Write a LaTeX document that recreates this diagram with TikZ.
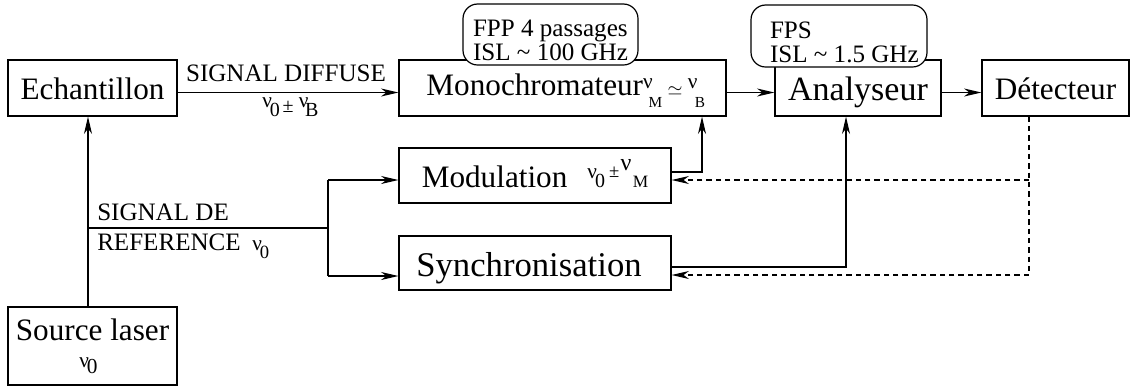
\documentclass[tikz,border=0pt]{standalone}
\usepackage{fontspec}
\setmainfont{Liberation Serif}
\usetikzlibrary{arrows.meta}
\newcommand{\fs}[1]{\fontsize{#1}{#1}\selectfont}
\tikzset{
  box/.style={draw, line width=0.9pt, inner sep=0pt, text depth=0pt},
  roundbox/.style={draw, fill=white, line width=0.9pt, rounded corners=11pt, inner sep=0pt},
  ln/.style={line width=0.9pt},
  tip/.style={-{Stealth[length=13pt,width=6pt,inset=4pt]}},
  arr/.style={line width=0.9pt, tip},
  dsh/.style={line width=0.9pt, dash pattern=on 4pt off 3pt},
  big/.style={font=\fs{23.4pt}},
  lab/.style={font=\fs{18.8pt}, inner sep=0pt},
  nulab/.style={font=\fs{15pt}, inner sep=0pt},
}
\begin{document}
\begin{tikzpicture}[x=0.75pt,y=-0.75pt]
\useasboundingbox (0,0) rectangle (1130,387);
% boxes
\node[box,big,minimum width=126.75pt,minimum height=42pt,text height=16.5pt] (ech) at (92.5,88) {Echantillon};
\node[box,big,minimum width=245.25pt,minimum height=42pt,text height=10.5pt] (mono) at (562.5,88)
  {Monochromateur{\fs{16pt}\raisebox{5.25pt}{ν}}\kern-3pt{\fs{11.5pt}\raisebox{-9pt}{M}}\kern4pt{\fs{15pt}$\simeq$}\kern4pt{\fs{16pt}\raisebox{5.25pt}{ν}}\kern-2pt{\fs{11.5pt}\raisebox{-9pt}{B}}\kern-5pt};
\node[box,font=\fs{25.5pt},minimum width=124.5pt,minimum height=42pt,text height=18pt] (ana) at (858,88) {Analyseur};
\node[box,big,minimum width=110.25pt,minimum height=42pt,text height=16.5pt] (det) at (1055.5,88) {Détecteur};
\node[box,big,minimum width=204pt,minimum height=41.25pt,text height=17.25pt] (mod) at (535,175.5)
  {Modulation\kern15pt{\fs{16pt}\raisebox{6.75pt}{ν}\kern-1.5pt{\fs{15pt}0}}\kern3pt{\fs{14pt}\raisebox{7pt}{±}}\kern1pt{\fs{18pt}\raisebox{12.75pt}{ν}}\kern1pt{\fs{13pt}M}};
\node[box,font=\fs{26pt},minimum width=204pt,minimum height=40.5pt,text height=19.5pt] (sync) at (535,263) {Synchronisation\kern9pt};
\node[box,font=\fontsize{23.4pt}{20.25pt}\selectfont,minimum width=126.75pt,minimum height=58.5pt] (src) at (92.5,346)
  {\raisebox{0pt}[31.5pt][0pt]{\begin{tabular}[b]{@{}c@{}}Source laser\\{\fs{16pt}ν\kern-1.5pt\raisebox{-4.5pt}{0}}\kern6pt\end{tabular}}};
% rounded boxes
\node[roundbox,font=\fontsize{18.8pt}{17.25pt}\selectfont,minimum width=131.25pt,minimum height=45.75pt] (fpp) at (550.5,34.5)
  {\raisebox{0pt}[38.25pt][0pt]{\begin{tabular}[b]{@{}l@{}}FPP 4 passages\\ISL \textasciitilde{} 100 GHz\end{tabular}}};
\node[roundbox,font=\fontsize{18.8pt}{17.25pt}\selectfont,minimum width=132pt,minimum height=46.5pt] (fps) at (839,36)
  {\kern8pt\raisebox{0pt}[39pt][0pt]{\begin{tabular}[b]{@{}l@{}}FPS\\ISL \textasciitilde{} 1.5 GHz\end{tabular}}};
% labels
\node[lab,anchor=base] (sigdiff) at (286,81) {SIGNAL DIFFUSE};
\node[nulab,anchor=base west] (nub) at (262,107) {{\fs{16pt}ν}\kern-1.5pt\raisebox{-7pt}{0}\kern2pt\raisebox{-4pt}{±}\kern4pt{\fs{16pt}ν}\kern-2.5pt\raisebox{-7pt}{B}};
\node[lab,anchor=base west] (sigde) at (97,220) {SIGNAL DE};
\node[lab,anchor=base west] (ref) at (97,250) {REFERENCE};
\node[nulab,anchor=base west] (nuref) at (252,250) {{\fs{16pt}ν}\kern-1.5pt\raisebox{-6pt}{\fs{14pt}0}};
% coordinates
\coordinate (yrow) at (0,92.5);
\coordinate (xsrc) at (88,0);
\coordinate (split) at (328,228);
\coordinate (s1) at (328,180);
\coordinate (s2) at (328,276);
\coordinate (m1) at (702,172);
\coordinate (a1) at (846,267);
\coordinate (d1) at (1029,180);
\coordinate (d2) at (1029,275);
% connectors
\draw[arr] (ech.east |- yrow) -- (mono.west |- yrow);
\draw[arr] (mono.east |- yrow) -- (ana.west |- yrow);
\draw[arr] (ana.east |- yrow) -- (det.west |- yrow);
\draw[arr] (src.north -| xsrc) -- (ech.south -| xsrc);
\draw[ln] (xsrc |- split) -- (split);
\draw[ln] (s1) -- (s2);
\draw[arr] (s1) -- (mod.west |- s1);
\draw[arr] (s2) -- (sync.west |- s2);
\draw[arr] (mod.east |- m1) -- (m1) -- (mono.south -| m1);
\draw[arr] (sync.east |- a1) -- (a1) -- (ana.south -| a1);
\draw[dsh] (det.south -| d1) -- (d2);
\draw[dsh,tip] (d2) -- (sync.east |- d2);
\draw[dsh,tip] (d1) -- (mod.east |- d1);
\end{tikzpicture}
\end{document}
